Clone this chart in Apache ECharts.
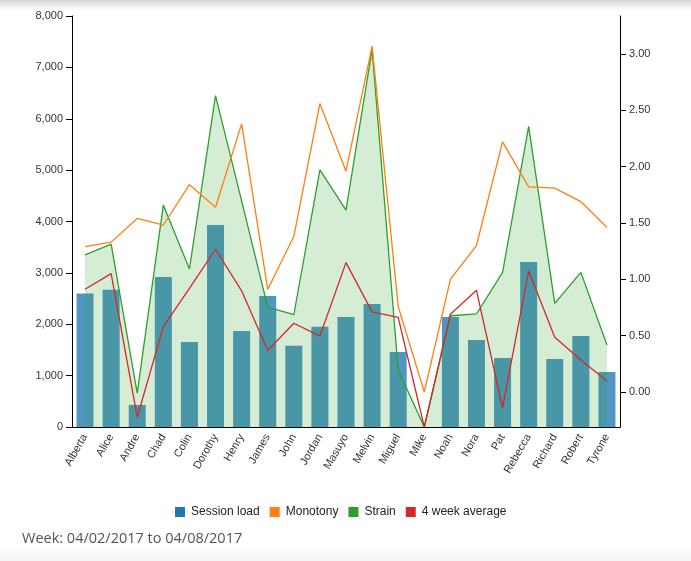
<!DOCTYPE html>
<html>
<head>
<meta charset="utf-8">
<script src="https://cdn.jsdelivr.net/npm/echarts@6/dist/echarts.min.js"></script>
<style>
  html, body { margin: 0; padding: 0; background: #fff; }
  #chart { width: 691px; height: 561px; position: relative; }
  .topshade { position: absolute; left: 0; top: 0; width: 691px; height: 10px;
    background: linear-gradient(rgba(215,215,215,1), rgba(255,255,255,0)); z-index: 10; pointer-events: none; }
  .botshade { position: absolute; left: 0; top: 546px; width: 691px; height: 15px;
    background: linear-gradient(rgba(255,255,255,0), rgba(244,244,244,1)); z-index: 10; pointer-events: none; }
</style>
</head>
<body>
<div style="position:relative;width:691px;height:561px;">
  <div id="chart"></div>
  <div class="topshade"></div>
  <div class="botshade"></div>
</div>
<script>
const categories = ['Alberta','Alice','Andre','Chad','Colin','Dorothy','Henry','James','John','Jordan','Masuyo','Melvin','Miguel','Mike','Noah','Nora','Pat','Rebecca','Richard','Robert','Tyrone'];
const sessionLoad = [2600, 2670, 430, 2920, 1655, 3930, 1870, 2550, 1580, 1950, 2140, 2395, 1460, 0, 2140, 1695, 1345, 3210, 1325, 1770, 1070];
const monotony = [1.29, 1.33, 1.54, 1.48, 1.84, 1.64, 2.38, 0.91, 1.38, 2.56, 1.96, 3.07, 0.76, 0.0, 1.0, 1.30, 2.22, 1.82, 1.81, 1.69, 1.46];
const strain = [3350, 3560, 660, 4320, 3075, 6450, 4400, 2335, 2185, 5005, 4220, 7350, 1110, 0, 2165, 2200, 3010, 5850, 2405, 3010, 1595];
const fourWeekAvg = [2680, 2985, 190, 1955, 2700, 3460, 2650, 1490, 2020, 1770, 3200, 2240, 2135, 0, 2195, 2660, 375, 3035, 1745, 1305, 895];
const rightTicks = [0, 0.5, 1, 1.5, 2, 2.5, 3];
const weekText = 'Week: 04/02/2017 to 04/08/2017';

const chart = echarts.init(document.getElementById('chart'), null, { renderer: 'canvas' });
const axisFont = { fontFamily: 'Liberation Sans, Arial, sans-serif', fontSize: 11, color: '#333' };
const option = {
  animation: false,
  title: {
    text: weekText, left: 17, top: 526,
    textStyle: { fontFamily: 'Open Sans', fontSize: 14.5, fontWeight: 'normal', color: '#555' }
  },
  legend: {
    left: 170, top: 501, itemWidth: 10, itemHeight: 10, itemGap: 10,
    icon: 'rect',
    data: [
      { name: 'Session load', itemStyle: { color: '#1f77b4', opacity: 1 } },
      { name: 'Monotony', itemStyle: { color: '#ff7f0e' } },
      { name: 'Strain', itemStyle: { color: '#2ca02c' } },
      { name: '4 week average', itemStyle: { color: '#d62728' } }
    ],
    textStyle: { fontFamily: 'Liberation Sans, Arial, sans-serif', fontSize: 12, color: '#222', padding: [0, 0, 0, 1] }
  },
  grid: { left: 72, right: 71, top: 16, bottom: 134, containLabel: false },
  xAxis: {
    type: 'category', data: categories, boundaryGap: true,
    axisLine: { lineStyle: { color: '#000', width: 1 } },
    axisTick: { length: 6, lineStyle: { color: '#000' } },
    axisLabel: Object.assign({ rotate: 60, margin: 8, interval: 0 }, axisFont),
    splitLine: { show: false }
  },
  yAxis: [
    {
      type: 'value', min: 0, max: 8000, interval: 1000,
      axisLine: { show: true, lineStyle: { color: '#000', width: 1 } },
      axisTick: { show: true, length: 6, lineStyle: { color: '#000' } },
      axisLabel: Object.assign({ margin: 9, formatter: v => v.toLocaleString('en-US') }, axisFont),
      splitLine: { show: false }
    },
    {
      type: 'value', min: -0.3106, max: 3.337,
      position: 'right',
      axisLine: { show: true, lineStyle: { color: '#000', width: 1 } },
      axisTick: { show: true, length: 6, lineStyle: { color: '#000' }, customValues: rightTicks },
      axisLabel: Object.assign({ margin: 9, customValues: rightTicks, formatter: v => v.toFixed(2) }, axisFont),
      splitLine: { show: false }
    }
  ],
  series: [
    {
      name: 'Session load', type: 'bar', data: sessionLoad, yAxisIndex: 0,
      barWidth: 17, z: 1,
      itemStyle: { color: 'rgba(31,119,180,0.78)' }
    },
    {
      name: 'Monotony', type: 'line', data: monotony, yAxisIndex: 1,
      showSymbol: false, symbol: 'none', z: 4,
      lineStyle: { color: '#ff7f0e', width: 1.3 }, itemStyle: { color: '#ff7f0e' }
    },
    {
      name: 'Strain', type: 'line', data: strain, yAxisIndex: 0,
      showSymbol: false, symbol: 'none', z: 3,
      lineStyle: { color: '#2ca02c', width: 1.3 }, itemStyle: { color: '#2ca02c' },
      areaStyle: { color: 'rgba(44,160,44,0.2)', opacity: 1, origin: 'start' }
    },
    {
      name: '4 week average', type: 'line', data: fourWeekAvg, yAxisIndex: 0,
      showSymbol: false, symbol: 'none', z: 4,
      lineStyle: { color: '#d62728', width: 1.3 }, itemStyle: { color: '#d62728' }
    }
  ]
};
chart.setOption(option);
</script>
</body>
</html>
